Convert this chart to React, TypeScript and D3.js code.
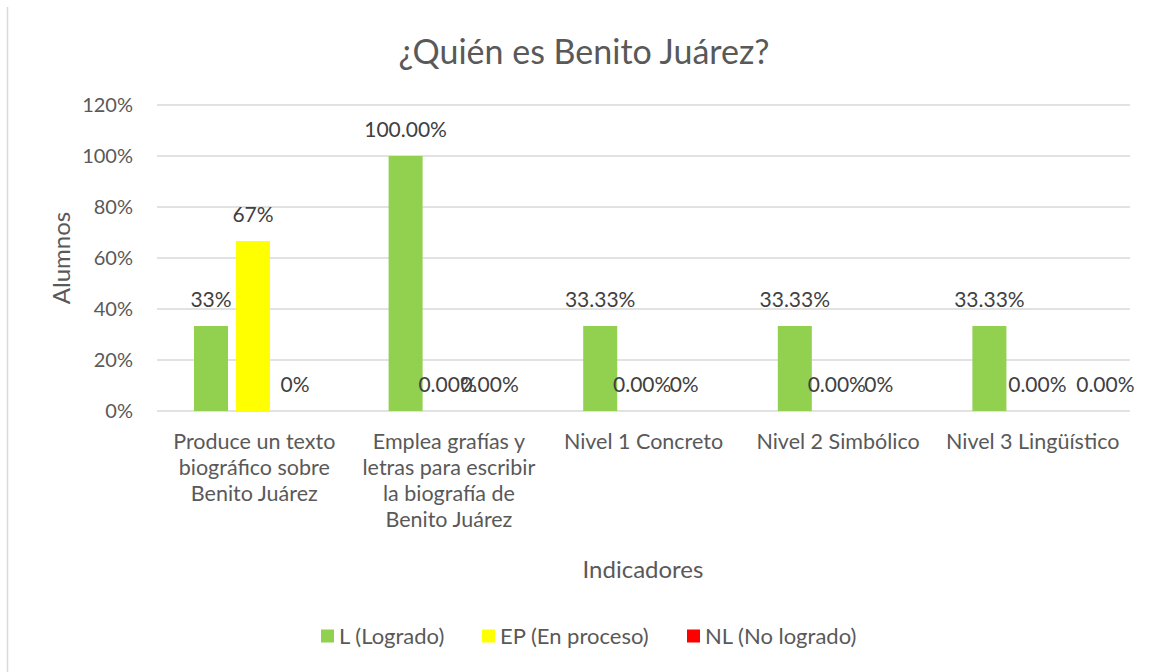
import React, { useEffect, useRef } from "react";
import * as d3 from "d3";

const categories = [
  ["Produce un texto", "biográfico sobre", "Benito Juárez"],
  ["Emplea grafías y", "letras para escribir", "la biografía de", "Benito Juárez"],
  ["Nivel 1 Concreto"],
  ["Nivel 2 Simbólico"],
  ["Nivel 3 Lingüístico"],
];
const seriesNames = ["L (Logrado)", "EP (En proceso)", "NL (No logrado)"];
const seriesColors = ["#92d050", "#ffff00", "#ff0000"];
const logrado = [0.3333, 1.0, 0.3333, 0.3333, 0.3333];
const enProceso = [0.6667, 0, 0, 0, 0];
const noLogrado = [0, 0, 0, 0, 0];
const logradoLabels = ["33%", "100.00%", "33.33%", "33.33%", "33.33%"];
const enProcesoLabels = ["67%", "0.00%", "0.00%", "0.00%", "0.00%"];
const noLogradoLabels = ["0%", "0.00%", "0%", "0%", "0.00%"];
const yTicks = [0, 0.2, 0.4, 0.6, 0.8, 1.0, 1.2];

const W = 1149;
const H = 672;
const FONT = "Lato, 'Open Sans', sans-serif";

export default function App() {
  const ref = useRef<SVGSVGElement>(null);

  useEffect(() => {
    const svg = d3.select(ref.current);
    svg.selectAll("*").remove();

    const left = 157, right = 1130, top = 105, bottom = 411;

    // chart frame edge
    svg.append("line")
      .attr("x1", 7.5).attr("x2", 7.5).attr("y1", 7).attr("y2", H)
      .attr("stroke", "#d9d9d9").attr("stroke-width", 1.5);

    const x0 = d3.scaleBand<number>()
      .domain(categories.map((_, i) => i))
      .range([left, right]);
    const x1 = d3.scaleBand<number>()
      .domain([0, 1, 2])
      .range([37, 155])
      .paddingInner(0.19);
    const y = d3.scaleLinear().domain([0, 1.2]).range([bottom, top]);

    // gridlines
    svg.append("g").selectAll("line").data(yTicks).enter().append("line")
      .attr("x1", left).attr("x2", right)
      .attr("y1", d => y(d)).attr("y2", d => y(d))
      .attr("stroke", "#d9d9d9").attr("stroke-width", 1.5);

    // y tick labels
    svg.append("g").selectAll("text").data(yTicks).enter().append("text")
      .attr("x", 133).attr("y", d => y(d))
      .attr("dy", "0.35em")
      .attr("text-anchor", "end")
      .attr("font-family", FONT).attr("font-size", 20)
      .attr("fill", "#595959")
      .text(d => d3.format(".0%")(d));

    const series = [logrado, enProceso, noLogrado];
    const labels = [logradoLabels, enProcesoLabels, noLogradoLabels];
    const last = categories.length - 1;

    const groups = svg.append("g").selectAll("g").data(categories.map((_, i) => i)).enter().append("g")
      .attr("transform", i => "translate(" + x0(i) + ",0)");

    groups.selectAll("rect")
      .data(i => series.map((s, k) => ({ k: k, v: s[i] })))
      .enter().append("rect")
      .attr("x", d => x1(d.k) as number)
      .attr("y", d => y(d.v))
      .attr("width", x1.bandwidth())
      .attr("height", d => bottom - y(d.v))
      .attr("fill", d => seriesColors[d.k]);

    groups.selectAll("text")
      .data(i => series.map((s, k) => ({ i: i, k: k, v: s[i], t: labels[k][i] })))
      .enter().append("text")
      .attr("x", d => (x1(d.k) as number) + x1.bandwidth() / 2)
      .attr("y", d => y(d.v) - 26)
      .attr("dy", "0.35em")
      // last group's labels were pulled apart in the original
      .attr("dx", d => (d.i === last && d.k > 0 ? (d.k === 1 ? 6 : 32) : 0))
      .attr("text-anchor", "middle")
      .attr("font-family", FONT).attr("font-size", 21)
      .attr("fill", "#404040")
      .text(d => d.t);

    // category labels
    const cat = svg.append("g").selectAll("text").data(categories).enter().append("text")
      .attr("x", (_, i) => (x0(i) as number) + x0.bandwidth() / 2)
      .attr("y", 441)
      .attr("text-anchor", "middle")
      .attr("font-family", FONT).attr("font-size", 21.5)
      .attr("fill", "#595959");
    cat.selectAll("tspan").data(d => d).enter().append("tspan")
      .attr("x", function () { return (this.parentNode as SVGTextElement).getAttribute("x"); })
      .attr("y", (_, j) => 441 + j * 26)
      .attr("dy", "0.35em")
      .text(d => d);

    // title
    svg.append("text")
      .attr("x", 584).attr("y", 52).attr("dy", "0.35em")
      .attr("text-anchor", "middle")
      .attr("font-family", FONT).attr("font-size", 34)
      .attr("fill", "#595959")
      .text("¿Quién es Benito Juárez?");

    // axis titles
    svg.append("text")
      .attr("transform", "translate(62,258) rotate(-90)")
      .attr("dy", "0.35em")
      .attr("text-anchor", "middle")
      .attr("font-family", FONT).attr("font-size", 24)
      .attr("fill", "#595959")
      .text("Alumnos");
    svg.append("text")
      .attr("x", 643).attr("y", 570).attr("dy", "0.35em")
      .attr("text-anchor", "middle")
      .attr("font-family", FONT).attr("font-size", 24)
      .attr("fill", "#595959")
      .text("Indicadores");

    // legend
    const legendX = [321, 482, 687];
    const lg = svg.append("g").selectAll("g").data(seriesNames).enter().append("g")
      .attr("transform", (_, i) => "translate(" + legendX[i] + ",636)");
    lg.append("rect")
      .attr("x", 0).attr("y", -6.5)
      .attr("width", 13).attr("height", 13)
      .attr("fill", (_, i) => seriesColors[i]);
    lg.append("text")
      .attr("x", 18).attr("y", 0).attr("dy", "0.35em")
      .attr("font-family", FONT).attr("font-size", 22)
      .attr("fill", "#595959")
      .text(d => d);
  }, []);

  return (
    <svg ref={ref} width={W} height={H}
      style={{ position: "absolute", left: 0, top: 0, background: "#fff" }} />
  );
}
